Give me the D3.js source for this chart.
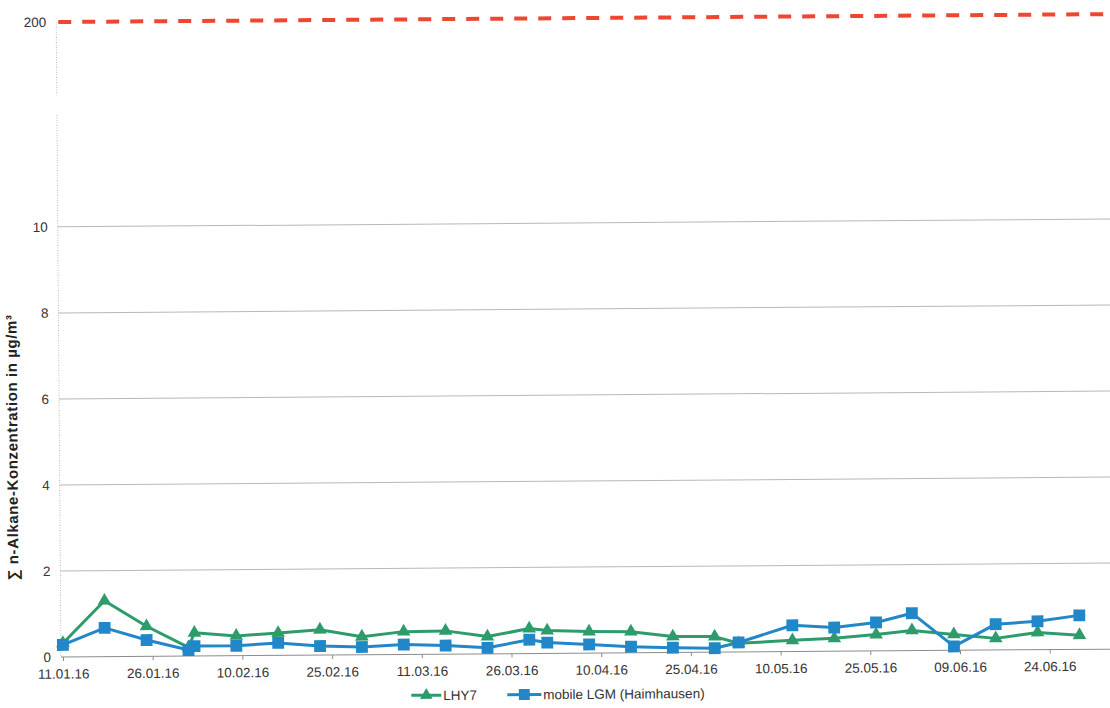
<!DOCTYPE html>
<html>
<head>
<meta charset="utf-8">
<script src="https://cdn.jsdelivr.net/npm/d3@7/dist/d3.min.js"></script>
<style>
  html, body { margin: 0; padding: 0; background: #fff; }
  svg { display: block; font-family: "Liberation Sans", Arial, sans-serif; }
</style>
</head>
<body>
<svg id="chart" width="1110" height="708"></svg>
<script>
// Sampling dates (dd.mm.yy)
const sampleDates = ["11.01.16","18.01.16","25.01.16","01.02.16","02.02.16","09.02.16","16.02.16",
  "23.02.16","01.03.16","08.03.16","15.03.16","22.03.16","29.03.16","01.04.16","08.04.16",
  "15.04.16","22.04.16","29.04.16","03.05.16","12.05.16","19.05.16","26.05.16","01.06.16",
  "08.06.16","15.06.16","22.06.16","29.06.16"];

// Σ n-alkane concentration in µg/m³
const lhy7 = [0.32, 1.30, 0.70, 0.20, 0.54, 0.46, 0.52, 0.59, 0.42, 0.53, 0.54, 0.40, 0.58,
  0.53, 0.50, 0.49, 0.37, 0.36, 0.20, 0.26, 0.30, 0.38, 0.47, 0.37, 0.27, 0.40, 0.33];
const mobileLGM = [0.28, 0.67, 0.38, 0.14, 0.23, 0.23, 0.29, 0.21, 0.18, 0.23, 0.20, 0.14, 0.32,
  0.25, 0.20, 0.14, 0.11, 0.09, 0.22, 0.61, 0.55, 0.66, 0.87, 0.09, 0.60, 0.66, 0.79];

// Reference value shown in the upper (broken) part of the axis
const limitValue = [200];

// Axis ticks
const yTicksLower = [0, 2, 4, 6, 8, 10];
const yTicksUpper = [200];
const xTickDates = ["11.01.16","26.01.16","10.02.16","25.02.16","11.03.16","26.03.16",
  "10.04.16","25.04.16","10.05.16","25.05.16","09.06.16","24.06.16"];
const xDomain = ["11.01.16", "05.07.16"];

const seriesNames = ["LHY7", "mobile LGM (Haimhausen)"];

const parse = d3.timeParse("%d.%m.%y");
const fmt = d3.timeFormat("%d.%m.%y");

const svg = d3.select("#chart");
// the scanned sheet sits slightly askew
const root = svg.append("g").attr("transform", "rotate(-0.43, 61, 657)");

const x = d3.scaleTime().domain(xDomain.map(parse)).range([63, 63 + 176 * 5.98]);
const yLow = d3.scaleLinear().domain([0, 12.6]).range([657, 115]);
const yHigh = d3.scaleLinear().domain([180, 200]).range([95, 22]);

const green = "#2e9b6b";
const blue = "#2287c8";
const textCol = "#333";

// gridlines of the lower panel
root.append("g").selectAll("line")
  .data(yTicksLower.filter(d => d > 0))
  .join("line")
  .attr("x1", 61).attr("x2", 1115)
  .attr("y1", d => yLow(d)).attr("y2", d => yLow(d))
  .attr("stroke", "#b8b8b8").attr("stroke-width", 1);

// y axis (dotted), in two pieces around the break
root.append("line").attr("x1", 61).attr("x2", 61)
  .attr("y1", yHigh(200)).attr("y2", yHigh(180))
  .attr("stroke", "#bbb").attr("stroke-dasharray", "1,1.5");
root.append("line").attr("x1", 61).attr("x2", 61)
  .attr("y1", yLow(12.6)).attr("y2", yLow(0))
  .attr("stroke", "#bbb").attr("stroke-dasharray", "1,1.5");

// y tick labels
const yLabel = (sel, scale, ticks) => sel.selectAll("text")
  .data(ticks).join("text")
  .attr("x", 51).attr("y", d => scale(d)).attr("dy", "0.36em")
  .attr("text-anchor", "end").attr("font-size", 13.5).attr("fill", textCol)
  .text(d => d);
yLabel(root.append("g"), yLow, yTicksLower);
yLabel(root.append("g"), yHigh, yTicksUpper);

// x axis
const xAxis = d3.axisBottom(x)
  .tickValues(xTickDates.map(parse))
  .tickFormat(fmt)
  .tickSize(4)
  .tickPadding(8);
const gx = root.append("g").attr("transform", `translate(0,${yLow(0)})`).call(xAxis);
gx.select(".domain").attr("stroke", "#8c8c8c").attr("d", `M61,0H1115`);
gx.selectAll(".tick line").attr("stroke", "#8c8c8c");
gx.selectAll(".tick text").attr("font-size", 13.5).attr("fill", textCol)
  .attr("font-family", "Liberation Sans, Arial, sans-serif");

// reference line at 200
root.append("g").selectAll("line")
  .data(limitValue).join("line")
  .attr("x1", 63).attr("x2", 1115)
  .attr("y1", d => yHigh(d)).attr("y2", d => yHigh(d))
  .attr("stroke", "#f04630").attr("stroke-width", 4)
  .attr("stroke-dasharray", "13,11");

// y axis title
root.append("text")
  .attr("transform", "translate(19,447) rotate(-90)")
  .attr("text-anchor", "middle")
  .attr("font-size", 15).attr("font-weight", "bold").attr("fill", "#222")
  .attr("letter-spacing", 0.6)
  .text("∑ n-Alkane-Konzentration in µg/m³");

// data series
const dates = sampleDates.map(parse);
const series = [
  { name: seriesNames[0], values: lhy7, color: green, symbol: d3.symbolTriangle, size: 80 },
  { name: seriesNames[1], values: mobileLGM, color: blue, symbol: d3.symbolSquare, size: 140 }
];

const line = d3.line().x(d => x(d[0])).y(d => yLow(d[1]));

series.forEach(s => {
  const pts = dates.map((d, i) => [d, s.values[i]]);
  const g = root.append("g");
  g.append("path").datum(pts)
    .attr("d", line).attr("fill", "none")
    .attr("stroke", s.color).attr("stroke-width", 3).attr("stroke-linejoin", "round");
  g.selectAll("path.m").data(pts).join("path")
    .attr("class", "m")
    .attr("transform", d => `translate(${x(d[0])},${yLow(d[1])})`)
    .attr("d", d3.symbol(s.symbol, s.size))
    .attr("fill", s.color);
});

// legend
const legend = root.append("g").attr("transform", "translate(0,698)");
const legendItems = [
  { x0: 411, x1: 441, tx: 443 },
  { x0: 507, x1: 541, tx: 543 }
];
series.forEach((s, i) => {
  const it = legendItems[i];
  legend.append("line").attr("x1", it.x0).attr("x2", it.x1)
    .attr("stroke", s.color).attr("stroke-width", 3);
  legend.append("path")
    .attr("transform", `translate(${(it.x0 + it.x1) / 2},0)`)
    .attr("d", d3.symbol(s.symbol, s.size * 0.85))
    .attr("fill", s.color);
  legend.append("text").attr("x", it.tx).attr("y", 0).attr("dy", "0.36em")
    .attr("font-size", 13.5).attr("fill", textCol).text(s.name);
});
</script>
</body>
</html>
